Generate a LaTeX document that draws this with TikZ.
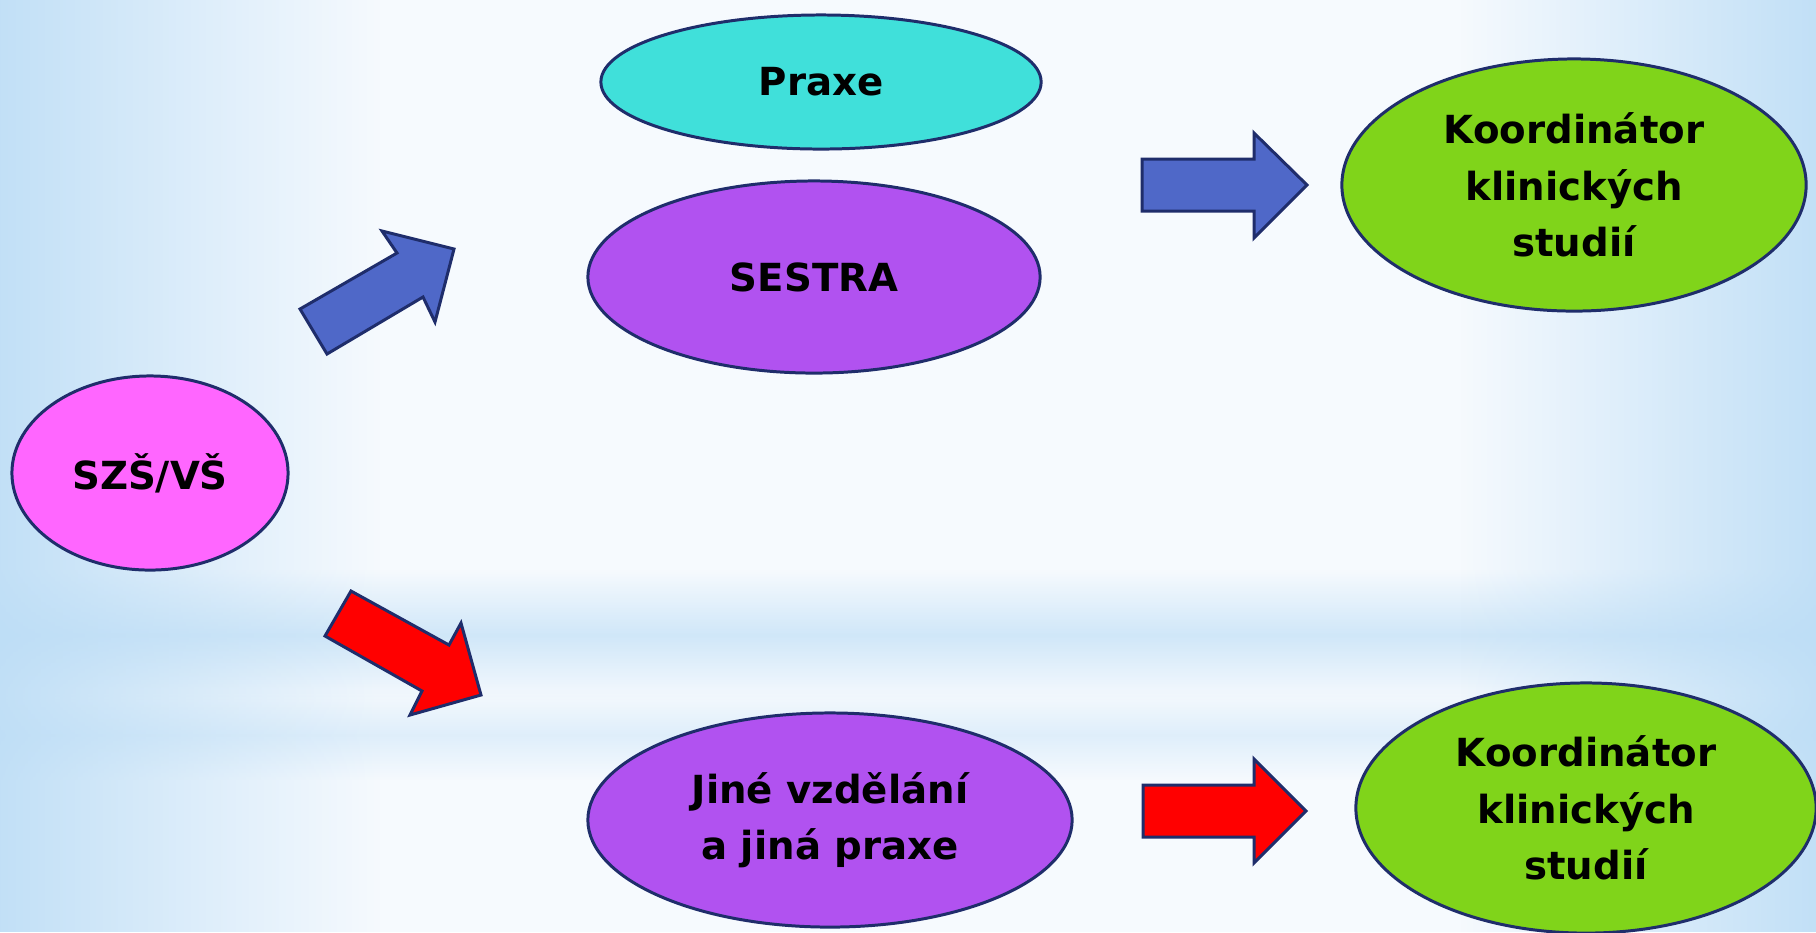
\documentclass[tikz,border=0pt]{standalone}
\usepackage{fontspec}
\setmainfont{DejaVu Sans}
\usetikzlibrary{shapes.geometric,fadings}
\definecolor{bgblue}{HTML}{BCDDF6}
\definecolor{bgwhite}{HTML}{F6FAFE}
\definecolor{outl}{HTML}{1F2D6B}
\definecolor{cyanfill}{HTML}{40E0DA}
\definecolor{purplefill}{HTML}{B152F0}
\definecolor{pinkfill}{HTML}{FF66FF}
\definecolor{greenfill}{HTML}{80D41A}
\definecolor{bluearrow}{HTML}{4F68C8}
\definecolor{redarrow}{HTML}{FF0000}
\tikzfading[name=bandfade, top color=transparent!100, bottom color=transparent!100, middle color=transparent!35]
\tikzfading[name=leftfade, left color=transparent!10, right color=transparent!100]
\tikzfading[name=rightfade, left color=transparent!100, right color=transparent!10]
\begin{document}
\begin{tikzpicture}[x=0.01cm,y=-0.01cm,
  oval/.style={ellipse, draw=outl, line width=0.85pt, inner sep=0pt, align=center,
    font=\fontsize{11}{16}\selectfont\bfseries},
  blockarrow/.style={draw=outl, line width=0.85pt, line join=miter}]
% background
\fill[bgwhite] (0,0) rectangle (1816,932);
\fill[bgblue, path fading=bandfade] (0,570) rectangle (1816,700);
\fill[bgblue, path fading=bandfade, opacity=0.6] (0,690) rectangle (1816,780);
\fill[bgblue, path fading=leftfade] (0,0) rectangle (380,932);
\fill[bgblue, path fading=rightfade] (1460,0) rectangle (1816,932);
\useasboundingbox (0,0) rectangle (1816,932);
% nodes
\node[oval, fill=cyanfill, minimum width=4.40cm, minimum height=1.34cm] (praxe) at (821,82) {Praxe};
\node[oval, fill=purplefill, minimum width=4.52cm, minimum height=1.92cm] (sestra) at (814,277) {SESTRA};
\node[oval, fill=pinkfill, minimum width=2.76cm, minimum height=1.94cm] (szs) at (150,473) {SZŠ/VŠ};
\node[oval, fill=greenfill, minimum width=4.64cm, minimum height=2.52cm] (koord1) at (1574,185) {Koordinátor\\klinických\\studií};
\node[oval, fill=purplefill, minimum width=4.84cm, minimum height=2.14cm] (jine) at (830,820) {Jiné vzdělání\\a jiná praxe};
\node[oval, fill=greenfill, minimum width=4.60cm, minimum height=2.50cm] (koord2) at (1586,808) {Koordinátor\\klinických\\studií};
% block arrows
\draw[blockarrow, fill=bluearrow] (300,309) -- (397,253) -- (382,231) -- (454,249) -- (435,322) -- (423,297) -- (327,354) -- cycle;
\draw[blockarrow, fill=redarrow] (351,591) -- (449,645) -- (461,623) -- (481,695) -- (410,715) -- (422,691) -- (325,636) -- cycle;
\draw[blockarrow, fill=bluearrow] (1142,159) -- (1254,159) -- (1254,133) -- (1307,185) -- (1254,238) -- (1254,211) -- (1142,211) -- cycle;
\draw[blockarrow, fill=redarrow] (1143,785) -- (1254,785) -- (1254,759) -- (1306,811) -- (1254,863) -- (1254,837) -- (1143,837) -- cycle;
\end{tikzpicture}
\end{document}
